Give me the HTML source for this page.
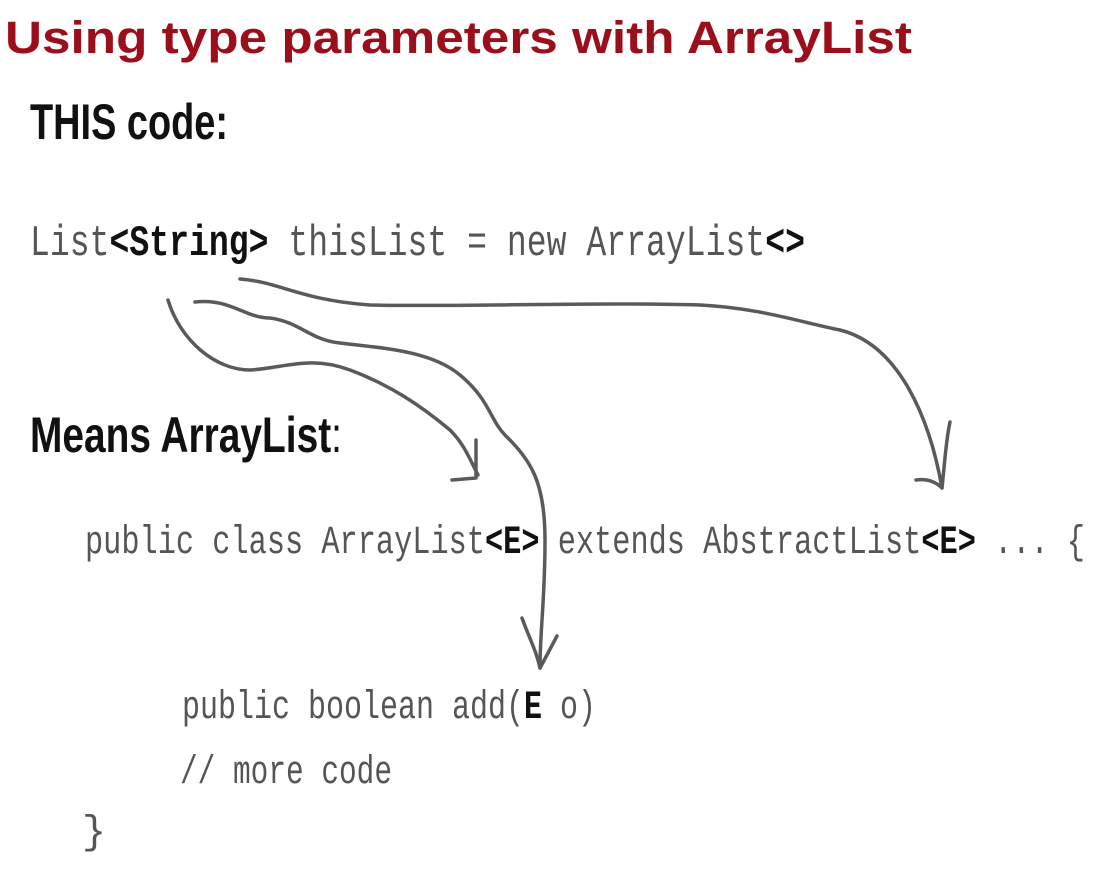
<!DOCTYPE html>
<html><head><meta charset="utf-8"><style>
html,body{margin:0;padding:0;background:#fff;}
svg{display:block;}
.code{font-family:"Liberation Mono",monospace;fill:#555;}
.b{fill:#111;font-weight:bold;}
.h{font-family:"Liberation Sans",sans-serif;font-weight:bold;fill:#111;}
path{fill:none;stroke:#5a5a5a;stroke-width:3.5;stroke-linecap:round;stroke-linejoin:round;}
</style></head><body>
<svg width="1118" height="873" viewBox="0 0 1118 873" xmlns="http://www.w3.org/2000/svg">
<text x="5" y="53" font-family="Liberation Sans, sans-serif" font-weight="bold" font-size="45" fill="#9b0e1b" textLength="907" lengthAdjust="spacingAndGlyphs">Using type parameters with ArrayList</text>
<text class="h" x="30" y="139" font-size="50" textLength="198" lengthAdjust="spacingAndGlyphs">THIS code:</text>
<text class="code" x="30" y="255" font-size="44" textLength="775" lengthAdjust="spacingAndGlyphs">List<tspan class="b">&lt;String&gt;</tspan> thisList = new ArrayList<tspan class="b">&lt;&gt;</tspan></text>
<text class="h" x="30" y="452" font-size="50" textLength="312" lengthAdjust="spacingAndGlyphs">Means ArrayList<tspan font-weight="normal">:</tspan></text>
<text class="code" x="85" y="553" font-size="40" textLength="1000" lengthAdjust="spacingAndGlyphs">public class ArrayList<tspan class="b">&lt;E&gt;</tspan> extends AbstractList<tspan class="b">&lt;E&gt;</tspan> ... {</text>
<text class="code" x="182" y="718" font-size="40" textLength="414" lengthAdjust="spacingAndGlyphs">public boolean add(<tspan class="b">E</tspan> o)</text>
<text class="code" x="180" y="783" font-size="40" textLength="212" lengthAdjust="spacingAndGlyphs">// more code</text>
<text class="code" x="82" y="843" font-size="40">}</text>
<!-- arrow 1 -->
<path d="M168 300 C180 340 215 370 250 370 C285 368 310 355 350 370 C390 385 420 405 450 430 C465 445 470 460 478 475"/>
<path d="M476 440 L476 478 L452 480"/>
<!-- arrow 2 -->
<path d="M195 302 C230 298 245 318 270 318 C300 322 310 340 340 343 C380 348 430 350 460 375 C490 400 490 420 505 435 C530 460 545 480 545 540 C545 600 540 630 540 668"/>
<path d="M522 618 C530 640 536 650 540 668 L557 636"/>
<!-- arrow 3 -->
<path d="M240 279 C280 282 300 300 370 305 C450 307 600 302 700 305 C760 308 800 322 840 330 C900 345 930 420 942 488"/>
<path d="M916 480 C930 478 938 484 942 488 C945 460 946 440 950 422"/>
</svg>
</body></html>
